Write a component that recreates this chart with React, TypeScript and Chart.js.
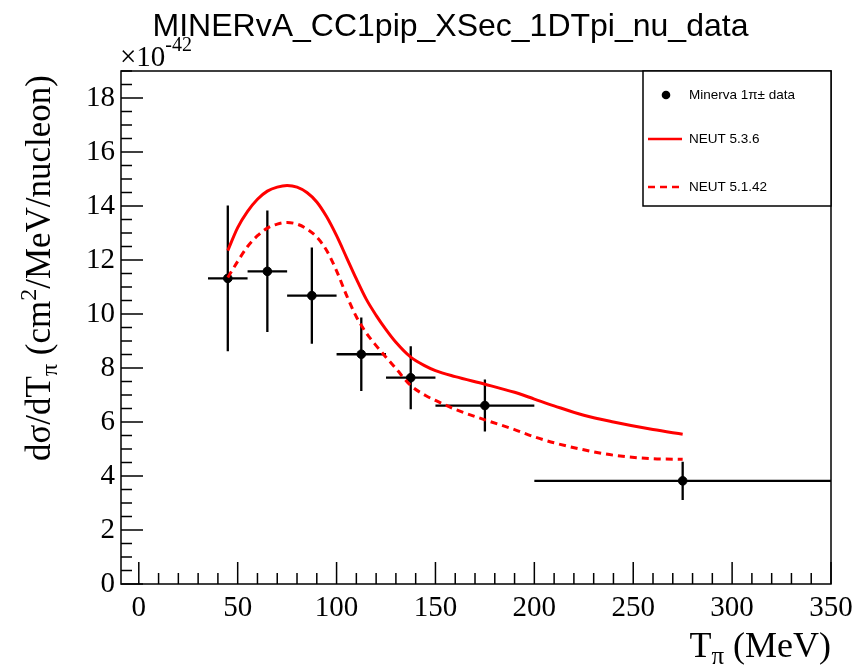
import React, { useEffect, useRef } from "react";
import { Chart, registerables } from "chart.js";
Chart.register(...registerables);

// ---------------- data ----------------
const titleText = "MINERvA_CC1pip_XSec_1DTpi_nu_data";
const binLow = [35, 55, 75, 100, 125, 150, 200];
const binHigh = [55, 75, 100, 125, 150, 200, 350];
const binCenter = [45, 65, 87.5, 112.5, 137.5, 175, 275];
const dataValues = [11.32, 11.58, 10.68, 8.51, 7.64, 6.61, 3.82];
const dataErrors = [2.7, 2.25, 1.78, 1.36, 1.17, 0.96, 0.71];

const curveX = [45, 50, 55, 60, 65, 70, 75, 80, 85, 90, 95, 100, 105, 110, 115, 120, 125, 130, 137.5, 145, 150, 160, 175, 190, 200, 210, 225, 240, 260, 275];
const neut536 = [12.35, 13.2, 13.8, 14.25, 14.55, 14.7, 14.76, 14.7, 14.5, 14.15, 13.6, 12.9, 12.1, 11.3, 10.55, 9.95, 9.42, 8.95, 8.4, 8.07, 7.9, 7.68, 7.4, 7.1, 6.85, 6.6, 6.25, 6.0, 5.72, 5.55];
const neut5142 = [11.35, 11.95, 12.5, 12.9, 13.18, 13.33, 13.39, 13.33, 13.15, 12.85, 12.35, 11.6, 10.7, 9.9, 9.3, 8.83, 8.4, 7.98, 7.35, 6.98, 6.8, 6.47, 6.08, 5.72, 5.45, 5.23, 4.97, 4.77, 4.64, 4.62];

const xTicks = [0, 50, 100, 150, 200, 250, 300, 350];
const yTicks = [0, 2, 4, 6, 8, 10, 12, 14, 16, 18];
const xMinorStep = 10;
const yMinorStep = 0.5;
const legendLabels = ["Minerva 1\u03c0\u00b1 data", "NEUT 5.3.6", "NEUT 5.1.42"];

const SERIF = "'Liberation Serif', 'Times New Roman', serif";
const SANS = "'Liberation Sans', Arial, sans-serif";
const RED = "#ff0000";

type Seg = { t: string; s: number; dy: number };
function drawRich(ctx: CanvasRenderingContext2D, segs: Seg[], family: string, x: number, y: number, align: "left" | "right" | "center") {
  ctx.textAlign = "left";
  ctx.textBaseline = "alphabetic";
  let w = 0;
  for (const sg of segs) {
    ctx.font = `${sg.s}px ${family}`;
    w += ctx.measureText(sg.t).width;
  }
  let cx = align === "left" ? x : align === "right" ? x - w : x - w / 2;
  for (const sg of segs) {
    ctx.font = `${sg.s}px ${family}`;
    ctx.fillText(sg.t, cx, y + sg.dy);
    cx += ctx.measureText(sg.t).width;
  }
}

const rootPlugin = {
  id: "rootStyle",
  beforeDatasetsDraw(chart: any) {
    const { ctx, chartArea: a, scales } = chart;
    const x = scales.x, y = scales.y;
    ctx.save();
    ctx.beginPath();
    ctx.rect(a.left, a.top, a.right - a.left, a.bottom - a.top);
    ctx.clip();
    ctx.strokeStyle = "#000";
    ctx.lineWidth = 2.3;
    ctx.beginPath();
    for (let i = 0; i < binCenter.length; i++) {
      const py = y.getPixelForValue(dataValues[i]);
      ctx.moveTo(x.getPixelForValue(binLow[i]), py);
      ctx.lineTo(x.getPixelForValue(binHigh[i]), py);
      const px = x.getPixelForValue(binCenter[i]);
      ctx.moveTo(px, y.getPixelForValue(dataValues[i] - dataErrors[i]));
      ctx.lineTo(px, y.getPixelForValue(dataValues[i] + dataErrors[i]));
    }
    ctx.stroke();
    ctx.restore();
  },
  afterDraw(chart: any) {
    const { ctx, chartArea: a, scales } = chart;
    const x = scales.x, y = scales.y;
    ctx.save();
    ctx.fillStyle = "#000";
    ctx.strokeStyle = "#000";
    // frame
    ctx.lineWidth = 1.5;
    ctx.strokeRect(a.left, a.top, a.right - a.left, a.bottom - a.top);
    // ticks
    ctx.lineWidth = 1.5;
    ctx.beginPath();
    const yMax = y.max;
    for (let k = 0; k * yMinorStep <= yMax + 1e-9; k++) {
      const v = k * yMinorStep;
      const major = yTicks.indexOf(v) >= 0;
      const py = y.getPixelForValue(v);
      ctx.moveTo(a.left, py);
      ctx.lineTo(a.left + (major ? 22 : 11), py);
    }
    for (let k = 0; k * xMinorStep <= x.max + 1e-9; k++) {
      const v = k * xMinorStep;
      const major = xTicks.indexOf(v) >= 0;
      const px = x.getPixelForValue(v);
      ctx.moveTo(px, a.bottom);
      ctx.lineTo(px, a.bottom - (major ? 22 : 11));
    }
    ctx.stroke();

    // title
    ctx.font = `32px ${SANS}`;
    ctx.textAlign = "center";
    ctx.textBaseline = "alphabetic";
    ctx.fillText(titleText, 450.5, 36);

    // exponent
    drawRich(ctx, [{ t: "\u00d710", s: 29, dy: 0 }, { t: "-42", s: 20, dy: -15 }], SERIF, a.left - 1, 66, "left");

    // x axis title
    drawRich(ctx, [{ t: "T", s: 36, dy: 0 }, { t: "\u03c0", s: 25, dy: 7 }, { t: " (MeV)", s: 36, dy: 0 }], SERIF, a.right, 657, "right");

    // y axis title
    ctx.save();
    ctx.translate(50, a.top + 4);
    ctx.rotate(-Math.PI / 2);
    drawRich(ctx, [
      { t: "d\u03c3/dT", s: 35, dy: 0 },
      { t: "\u03c0", s: 24, dy: 7 },
      { t: " (cm", s: 35, dy: 0 },
      { t: "2", s: 24, dy: -14 },
      { t: "/MeV/nucleon)", s: 35, dy: 0 },
    ], SERIF, 0, 0, "right");
    ctx.restore();

    // legend
    const lw = 188, lh = 135;
    const lx = a.right - lw, ly = a.top;
    ctx.fillStyle = "#fff";
    ctx.fillRect(lx, ly, lw, lh);
    ctx.strokeStyle = "#000";
    ctx.lineWidth = 1.5;
    ctx.strokeRect(lx, ly, lw, lh);
    const rows = [ly + 24, ly + 68, ly + 116];
    ctx.fillStyle = "#000";
    ctx.beginPath();
    ctx.arc(lx + 23, rows[0], 4.3, 0, Math.PI * 2);
    ctx.fill();
    ctx.strokeStyle = RED;
    ctx.lineWidth = 2.5;
    ctx.beginPath();
    ctx.moveTo(lx + 5, rows[1]);
    ctx.lineTo(lx + 39, rows[1]);
    ctx.stroke();
    ctx.setLineDash([7, 5]);
    ctx.beginPath();
    ctx.moveTo(lx + 5, rows[2]);
    ctx.lineTo(lx + 39, rows[2]);
    ctx.stroke();
    ctx.setLineDash([]);
    ctx.fillStyle = "#000";
    ctx.font = `13.5px ${SANS}`;
    ctx.textAlign = "left";
    ctx.textBaseline = "middle";
    for (let i = 0; i < legendLabels.length; i++) {
      ctx.fillText(legendLabels[i], lx + 46, rows[i]);
    }
    ctx.restore();
  },
};

export default function App() {
  const ref = useRef<HTMLCanvasElement | null>(null);
  useEffect(() => {
    if (!ref.current) return;
    const chart = new Chart(ref.current, {
      type: "line",
      data: {
        datasets: [
          {
            label: legendLabels[1],
            data: curveX.map((v, i) => ({ x: v, y: neut536[i] })),
            borderColor: RED,
            borderWidth: 3,
            pointRadius: 0,
            fill: false,
            cubicInterpolationMode: "monotone",
            order: 0,
          },
          {
            label: legendLabels[2],
            data: curveX.map((v, i) => ({ x: v, y: neut5142[i] })),
            borderColor: RED,
            borderWidth: 3,
            borderDash: [7, 5],
            pointRadius: 0,
            fill: false,
            cubicInterpolationMode: "monotone",
            order: 1,
          },
          {
            label: legendLabels[0],
            type: "scatter",
            data: binCenter.map((v, i) => ({ x: v, y: dataValues[i] })),
            backgroundColor: "#000",
            borderColor: "#000",
            pointRadius: 4.3,
            showLine: false,
            order: 2,
          } as any,
        ],
      },
      options: {
        responsive: false,
        animation: false,
        devicePixelRatio: 1,
        layout: { padding: { left: 0, top: 71, right: 34, bottom: 0 } },
        plugins: {
          legend: { display: false },
          title: { display: false },
          tooltip: { enabled: false },
        },
        scales: {
          x: {
            type: "linear",
            min: -9,
            max: 350,
            grid: { display: false, drawTicks: false },
            border: { display: false },
            afterBuildTicks: (s: any) => {
              s.ticks = xTicks.map((v) => ({ value: v }));
            },
            afterFit: (s: any) => {
              s.height = 84;
              s.paddingLeft = 0;
              s.paddingRight = 0;
            },
            ticks: {
              color: "#000",
              font: { family: SERIF, size: 29 },
              padding: 7,
              maxRotation: 0,
              autoSkip: false,
            },
          },
          y: {
            type: "linear",
            min: 0,
            max: 19,
            grid: { display: false, drawTicks: false },
            border: { display: false },
            afterBuildTicks: (s: any) => {
              s.ticks = yTicks.map((v) => ({ value: v }));
            },
            afterFit: (s: any) => {
              s.width = 121;
              s.paddingTop = 0;
              s.paddingBottom = 0;
            },
            ticks: {
              color: "#000",
              font: { family: SERIF, size: 29 },
              padding: 6,
              autoSkip: false,
            },
          },
        },
      },
      plugins: [rootPlugin as any],
    });
    return () => chart.destroy();
  }, []);
  return (
    <div style={{ position: "fixed", left: 0, top: 0, width: 865, height: 668, background: "#fff" }}>
      <canvas ref={ref} width={865} height={668} style={{ display: "block" }} />
    </div>
  );
}
